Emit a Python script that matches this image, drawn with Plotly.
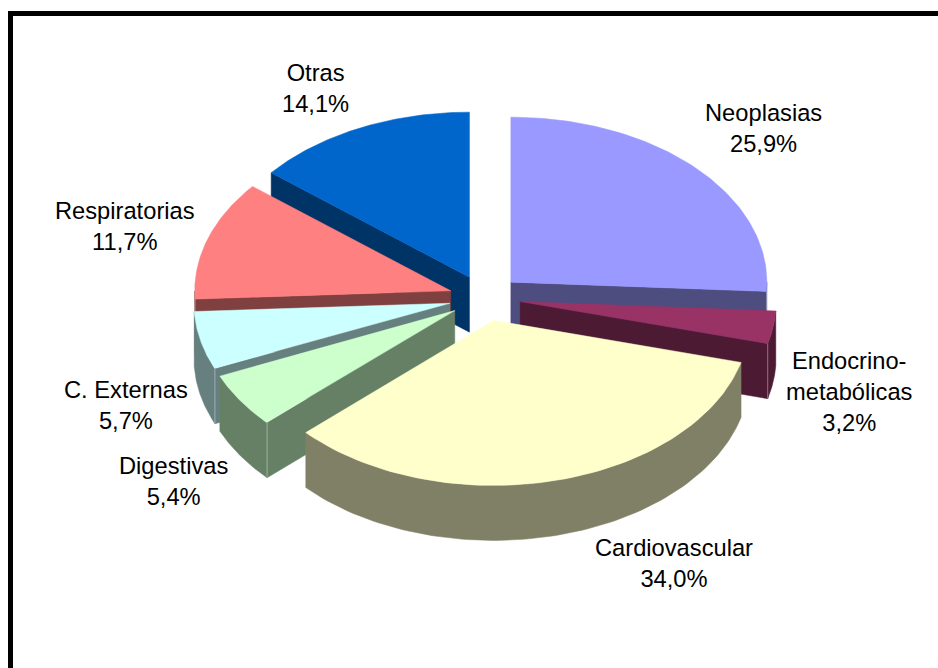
import numpy as np
import plotly.graph_objects as go

# Data (clockwise from 12 o'clock)
categories = ["Neoplasias", "Endocrino-<br>metabólicas", "Cardiovascular", "Digestivas",
              "C. Externas", "Respiratorias", "Otras"]
shares = [25.9, 3.2, 34.0, 5.4, 5.7, 11.7, 14.1]
top_colors = ["#9999FF", "#993366", "#FFFFCC", "#CCFFCC", "#CCFFFF", "#FF8080", "#0066CC"]
side_colors = ["#4D4D80", "#4D1A33", "#808066", "#668066", "#668080", "#804040", "#003366"]

# Layout of the tilted pie (page pixels used as axis units)
W, H = 938, 668
CX, CY = 484.8, 298
RX, RY = 256, 165
DEPTH = 55
EXPLODE = 0.14
label_x = [763, 848.5, 674, 173.5, 126, 125, 315]
label_y = [128, 392, 563, 481, 405, 226, 88]
draw_order = [6, 0, 5, 4, 1, 3, 2]   # back to front

fig = go.Figure()


def poly(xs, ys, color):
    fig.add_trace(go.Scatter(x=list(xs), y=list(ys), mode="lines", fill="toself",
                             fillcolor=color, line=dict(color=color, width=0.5),
                             hoverinfo="skip", showlegend=False))


edges = np.cumsum([0] + shares) / sum(shares) * 2 * np.pi
for i in draw_order:
    a0, a1 = edges[i], edges[i + 1]
    mid = (a0 + a1) / 2
    ax = CX + EXPLODE * RX * np.sin(mid)
    ay = CY - EXPLODE * RY * np.cos(mid)
    th = np.linspace(a0, a1, 90)
    px = ax + RX * np.sin(th)
    py = ay - RY * np.cos(th)

    # radial cut walls facing the viewer
    corners = []
    if np.sin(a0) < 0:
        corners.append(a0)
    if np.sin(a1) > 0:
        corners.append(a1)
    for a in corners:
        ex, ey = ax + RX * np.sin(a), ay - RY * np.cos(a)
        poly([ax, ex, ex, ax, ax], [ay, ey, ey + DEPTH, ay + DEPTH, ay], side_colors[i])

    # outer curved wall, front half only
    vis = np.cos(th) < 0
    if vis.any():
        vx, vy = px[vis], py[vis]
        poly(np.r_[vx, vx[::-1], vx[0]], np.r_[vy, vy[::-1] + DEPTH, vy[0]], side_colors[i])

    # faint highlight where a cut wall meets the curved wall
    for a in corners:
        if np.cos(a) < 0:
            ex, ey = ax + RX * np.sin(a), ay - RY * np.cos(a)
            fig.add_trace(go.Scatter(x=[ex, ex], y=[ey, ey + DEPTH], mode="lines",
                                     line=dict(color="rgba(255,255,255,0.35)", width=1),
                                     hoverinfo="skip", showlegend=False))

    # top face
    poly(np.r_[ax, px, ax], np.r_[ay, py, ay], top_colors[i])

for name, v, lx, ly in zip(categories, shares, label_x, label_y):
    value_text = f"{v:.1f}%".replace(".", ",")
    fig.add_annotation(x=lx, y=ly, xref="x", yref="y", showarrow=False, align="center",
                       text=f"{name}<br>{value_text}",
                       font=dict(family="Liberation Sans", size=23.7, color="#000000"))

# chart frame: only the left and top edges fall inside the picture
fig.add_shape(type="rect", xref="x", yref="y", x0=8, x1=13, y0=11, y1=H,
              fillcolor="#000000", line_width=0)
fig.add_shape(type="rect", xref="x", yref="y", x0=8, x1=W, y0=11, y1=16,
              fillcolor="#000000", line_width=0)

fig.update_layout(width=W, height=H, margin=dict(l=0, r=0, t=0, b=0),
                  paper_bgcolor="#FFFFFF", plot_bgcolor="#FFFFFF", showlegend=False,
                  xaxis=dict(range=[0, W], visible=False, fixedrange=True),
                  yaxis=dict(range=[H, 0], visible=False, fixedrange=True))

fig.write_html("out.html", config={"displayModeBar": False},
               post_script="document.body.style.margin='0';document.body.style.overflow='hidden';")
